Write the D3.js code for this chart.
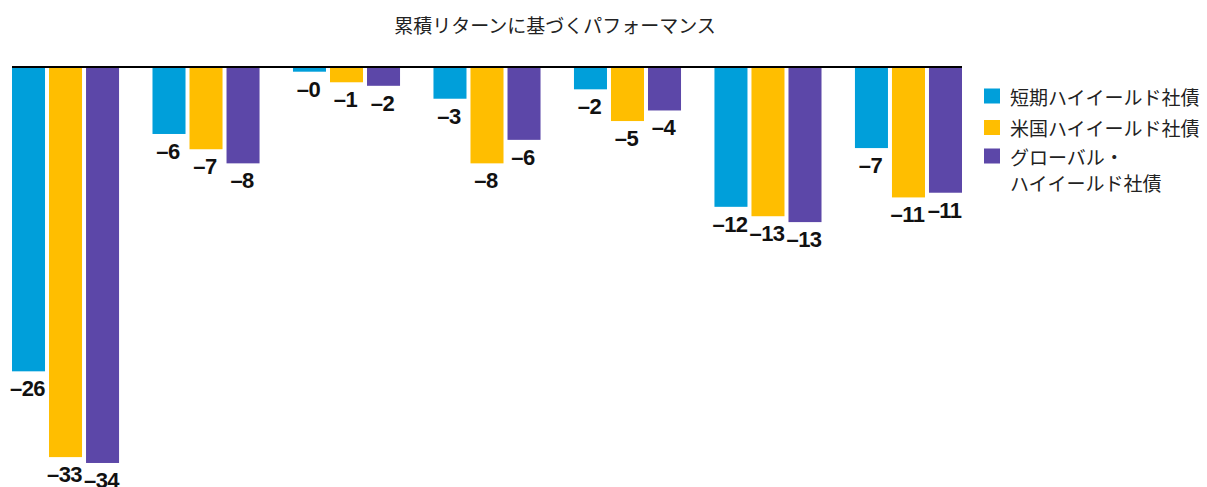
<!DOCTYPE html>
<html>
<head>
<meta charset="utf-8">
<script src="https://cdn.jsdelivr.net/npm/d3@7"></script>
<style>
  html, body { margin: 0; padding: 0; background: #fff; }
  svg { display: block; }
</style>
</head>
<body>
<svg id="chart" width="1207" height="487"></svg>
<script>
// Cumulative return (%) per period for each high-yield index
const periods = ["P1", "P2", "P3", "P4", "P5", "P6", "P7"];
const seriesNames = ["短期ハイイールド社債", "米国ハイイールド社債", "グローバル・ハイイールド社債"];
const shortHY  = [-25.9, -5.7, -0.4, -2.7, -1.9, -11.9, -6.9];
const usHY     = [-33.2, -7.0, -1.3, -8.2, -4.6, -12.7, -11.1];
const globalHY = [-33.7, -8.2, -1.6, -6.2, -3.7, -13.2, -10.7];
const legendLines = [["短期ハイイールド社債"], ["米国ハイイールド社債"], ["グローバル・", "ハイイールド社債"]];
const titleText = "累積リターンに基づくパフォーマンス";

const colors = ["#009fda", "#ffbe00", "#5c47a8"];
const seriesValues = [shortHY, usHY, globalHY];

const svg = d3.select("#chart");
const cjk = "'Noto Sans CJK JP', 'Noto Sans', sans-serif";

const x0 = d3.scaleBand().domain(periods).range([12, 962]).paddingInner(0.238).paddingOuter(0);
const x1 = d3.scaleBand().domain(d3.range(seriesNames.length)).range([0, x0.bandwidth()]).paddingInner(0.108);
const y = d3.scaleLinear().domain([0, -40]).range([67, 537]);

const fmt = v => (v < 0 ? "\u2013" : "") + Math.abs(v).toFixed(0);

// Title
svg.append("text")
  .attr("x", 555).attr("y", 24)
  .attr("text-anchor", "middle").attr("dominant-baseline", "central")
  .style("font-family", cjk).style("font-size", "19px").attr("fill", "#222")
  .text(titleText);

// Bars and value labels
const rows = periods.map((p, i) => ({ period: p, vals: seriesValues.map(s => s[i]) }));
const groups = svg.selectAll("g.period").data(rows).join("g")
  .attr("class", "period")
  .attr("transform", d => `translate(${x0(d.period)},0)`);

groups.selectAll("rect").data(d => d.vals.map((v, k) => ({ v, k }))).join("rect")
  .attr("x", d => x1(d.k))
  .attr("width", x1.bandwidth())
  .attr("y", y(0))
  .attr("height", d => y(d.v) - y(0))
  .attr("fill", d => colors[d.k]);

groups.selectAll("text").data(d => d.vals.map((v, k) => ({ v, k }))).join("text")
  .attr("x", d => x1(d.k) + x1.bandwidth() / 2 - 1)
  .attr("y", d => y(d.v) + 25)
  .attr("text-anchor", "middle")
  .style("font-family", "'Liberation Sans', Arial, sans-serif")
  .style("font-weight", "bold").style("font-size", "22px")
  .style("letter-spacing", "-0.6px")
  .attr("fill", "#111")
  .text(d => fmt(d.v));

// Zero baseline
svg.append("line")
  .attr("x1", x0.range()[0]).attr("x2", x0.range()[1])
  .attr("y1", y(0)).attr("y2", y(0))
  .attr("stroke", "#000").attr("stroke-width", 2);

// Legend
const legendTop = [96, 127.5, 156];
const legend = svg.append("g");
legendLines.forEach((lines, k) => {
  legend.append("rect")
    .attr("x", 984).attr("y", legendTop[k] - 7.5)
    .attr("width", 16).attr("height", 15)
    .attr("fill", colors[k]);
  lines.forEach((ln, j) => {
    legend.append("text")
      .attr("x", 1010).attr("y", legendTop[k] + j * 26)
      .attr("dominant-baseline", "central")
      .style("font-family", cjk).style("font-size", "19px").attr("fill", "#222")
      .text(ln);
  });
});
</script>
</body>
</html>
